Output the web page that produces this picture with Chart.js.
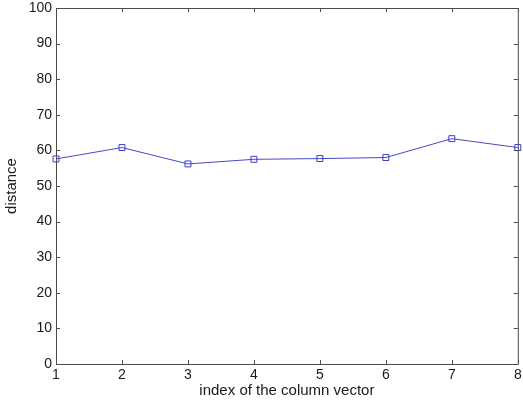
<!DOCTYPE html>
<html>
<head>
<meta charset="utf-8">
<script src="https://cdn.jsdelivr.net/npm/chart.js@4"></script>
<style>
  html, body { margin: 0; padding: 0; background: #fff; }
  #wrap { width: 523px; height: 405px; }
</style>
</head>
<body>
<div id="wrap"><canvas id="chartCanvas" width="523" height="405"></canvas></div>
<script>
// values
let columnIndex = [1, 2, 3, 4, 5, 6, 7, 8];
let distance = [57.6, 60.8, 56.2, 57.5, 57.7, 58.0, 63.3, 60.8];
let yTickValues = [0, 10, 20, 30, 40, 50, 60, 70, 80, 90, 100];

let axisColor = '#4a4a4a';
let textColor = '#1a1a1a';

// matlab style box with inward ticks
let boxPlugin = {
    id: 'boxTicks',
    afterDraw: function (chart) {
        let ctx = chart.ctx;
        let area = chart.chartArea;
        let xs = chart.scales.x;
        let ys = chart.scales.y;
        let len = 4;
        ctx.save();
        ctx.strokeStyle = axisColor;
        ctx.lineWidth = 1;
        ctx.beginPath();
        ctx.rect(area.left + 0.5, area.top + 0.5, area.right - area.left, area.bottom - area.top);
        xs.ticks.forEach(function (t) {
            let px = Math.round(xs.getPixelForValue(t.value)) + 0.5;
            ctx.moveTo(px, area.bottom);
            ctx.lineTo(px, area.bottom - len);
            ctx.moveTo(px, area.top);
            ctx.lineTo(px, area.top + len);
        });
        ys.ticks.forEach(function (t) {
            let py = Math.round(ys.getPixelForValue(t.value)) + 0.5;
            ctx.moveTo(area.left, py);
            ctx.lineTo(area.left + len, py);
            ctx.moveTo(area.right, py);
            ctx.lineTo(area.right - len, py);
        });
        ctx.stroke();
        ctx.restore();
    }
};

let ctx = document.getElementById('chartCanvas').getContext('2d');

window.distChart = new Chart(ctx, {
    type: 'line',
    data: {
        datasets: [{
            data: columnIndex.map(function (x, i) { return { x: x, y: distance[i] }; }),
            borderColor: '#4848c8',
            borderWidth: 1,
            pointStyle: 'rect',
            pointRadius: 4.2,
            pointBorderWidth: 1,
            pointBorderColor: '#3c3cc0',
            pointBackgroundColor: 'rgba(0,0,0,0)',
            tension: 0,
            clip: false
        }]
    },
    options: {
        responsive: false,
        animation: false,
        layout: { padding: { top: 8, right: 3, bottom: 0, left: 0 } },
        plugins: {
            legend: { display: false },
            tooltip: { enabled: false }
        },
        scales: {
            x: {
                type: 'linear',
                min: 1,
                max: 8,
                grid: { display: false, drawTicks: false },
                border: { display: false },
                afterBuildTicks: function (scale) {
                    scale.ticks = columnIndex.map(function (v) { return { value: v }; });
                },
                afterFit: function (scale) {
                    scale.height = 41;
                    scale.paddingLeft = 0;
                    scale.paddingRight = 0;
                },
                ticks: {
                    color: textColor,
                    padding: 3,
                    maxRotation: 0,
                    autoSkip: false,
                    font: { family: 'Liberation Sans', size: 14 }
                },
                title: {
                    display: true,
                    text: 'index of the column vector',
                    color: textColor,
                    padding: { top: 0, bottom: 5 },
                    font: { family: 'Liberation Sans', size: 15 }
                }
            },
            y: {
                min: 0,
                max: 100,
                grid: { display: false, drawTicks: false },
                border: { display: false },
                afterBuildTicks: function (scale) {
                    scale.ticks = yTickValues.map(function (v) { return { value: v }; });
                },
                afterFit: function (scale) {
                    scale.width = 56;
                    scale.paddingTop = 0;
                    scale.paddingBottom = 0;
                },
                ticks: {
                    color: textColor,
                    padding: 4,
                    autoSkip: false,
                    font: { family: 'Liberation Sans', size: 14 }
                },
                title: {
                    display: true,
                    text: 'distance',
                    color: textColor,
                    padding: { top: 3, bottom: 0 },
                    font: { family: 'Liberation Sans', size: 15 }
                }
            }
        }
    },
    plugins: [boxPlugin]
});
</script>
</body>
</html>
